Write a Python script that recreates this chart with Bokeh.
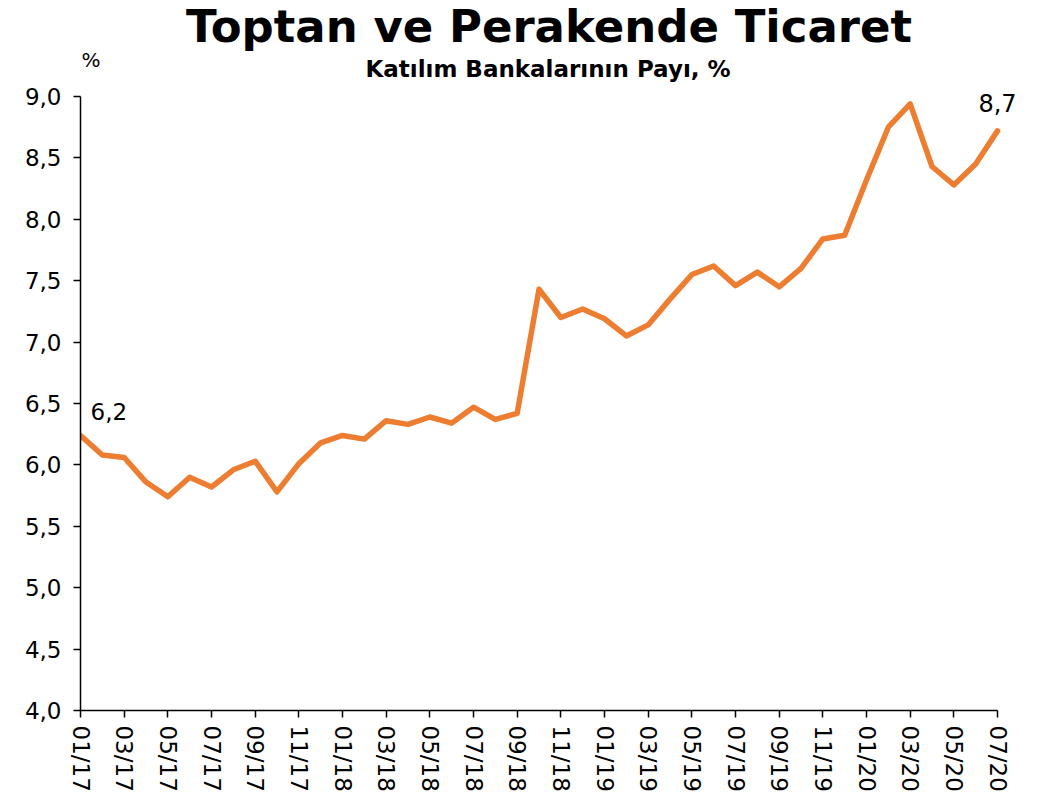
from bokeh.plotting import figure
from bokeh.models import Range1d, FixedTicker, CustomJSTickFormatter, Label, ColumnDataSource
from bokeh.embed import file_html
from bokeh.resources import INLINE
from bokeh.core.properties import value

months = ["01/17", "02/17", "03/17", "04/17", "05/17", "06/17", "07/17", "08/17", "09/17", "10/17",
          "11/17", "12/17", "01/18", "02/18", "03/18", "04/18", "05/18", "06/18", "07/18", "08/18",
          "09/18", "10/18", "11/18", "12/18", "01/19", "02/19", "03/19", "04/19", "05/19", "06/19",
          "07/19", "08/19", "09/19", "10/19", "11/19", "12/19", "01/20", "02/20", "03/20", "04/20",
          "05/20", "06/20", "07/20"]

share = [6.24, 6.08, 6.06, 5.86, 5.74, 5.90, 5.82, 5.96, 6.03, 5.78,
         6.01, 6.18, 6.24, 6.21, 6.36, 6.33, 6.39, 6.34, 6.47, 6.37,
         6.42, 7.43, 7.20, 7.27, 7.19, 7.05, 7.14, 7.35, 7.55, 7.62,
         7.46, 7.57, 7.45, 7.60, 7.84, 7.87, 8.32, 8.75, 8.94, 8.43,
         8.28, 8.45, 8.72]

y_ticks = [4.0, 4.5, 5.0, 5.5, 6.0, 6.5, 7.0, 7.5, 8.0, 8.5, 9.0]

title_text = "Toptan ve Perakende Ticaret"
subtitle_text = "Katılım Bankalarının Payı, %"
unit_text = "%"

ORANGE = "#ED7D31"
FONT = "DejaVu Sans"

xs = list(range(len(months)))
n_last = len(months) - 1

# frame extends past the data area so the title and end labels are not clipped;
# axis bounds keep the axis lines on the data area only
X_END = n_last * (1032 - 80) / 917
Y_END = y_ticks[0] + (y_ticks[-1] - y_ticks[0]) * (710 - 4) / 614

p = figure(width=1040, height=794, output_backend="svg", toolbar_location=None,
           x_range=Range1d(0, X_END), y_range=Range1d(y_ticks[0], Y_END),
           min_border_left=80, min_border_right=8, min_border_top=4, min_border_bottom=84)
p.outline_line_color = None
p.grid.visible = False
p.background_fill_color = "white"
p.border_fill_color = "white"

src = ColumnDataSource(dict(x=xs, y=share))
p.line("x", "y", source=src, line_color=ORANGE, line_width=5.5, line_join="round", line_cap="round")

# data labels for first and last points
first = ColumnDataSource(dict(x=[xs[0]], y=[share[0]], t=[f"{share[0]:.1f}".replace(".", ",")]))
last = ColumnDataSource(dict(x=[xs[-1]], y=[share[-1]], t=[f"{share[-1]:.1f}".replace(".", ",")]))
p.text("x", "y", text="t", source=first, text_font=value(FONT), text_font_size="23px",
       text_color="black", text_align="left", text_baseline="alphabetic", x_offset=10, y_offset=-24)
p.text("x", "y", text="t", source=last, text_font=value(FONT), text_font_size="24px",
       text_color="black", text_align="center", text_baseline="alphabetic", x_offset=0, y_offset=-28)

# axes
tick_idx = [i for i in xs if i % 2 == 0]
p.xaxis.ticker = FixedTicker(ticks=tick_idx)
p.xaxis.formatter = CustomJSTickFormatter(args=dict(labels=months), code="return labels[Math.round(tick)];")
p.xaxis.major_label_orientation = "vertical"
p.xaxis.bounds = (0, n_last)
p.yaxis.ticker = FixedTicker(ticks=y_ticks)
p.yaxis.formatter = CustomJSTickFormatter(code="return tick.toFixed(1).replace('.', ',');")
p.yaxis.bounds = (y_ticks[0], y_ticks[-1])

for ax in (p.xaxis, p.yaxis):
    ax.axis_line_color = "black"
    ax.axis_line_width = 1.5
    ax.major_tick_line_color = "black"
    ax.major_tick_line_width = 1.5
    ax.major_tick_in = 0
    ax.major_tick_out = 7
    ax.minor_tick_line_color = None
    ax.major_label_text_font = FONT
    ax.major_label_text_font_size = "23px"
    ax.major_label_text_color = "black"
p.xaxis.major_label_standoff = 8
p.yaxis.major_label_standoff = 12

# titles
cx = n_last / 2
p.add_layout(Label(x=cx, y=9.57, text=title_text, text_font=FONT, text_font_size="45px",
                   text_font_style="bold", text_align="center", text_baseline="alphabetic",
                   x_offset=10, text_color="black"))
p.add_layout(Label(x=cx, y=9.228, text=subtitle_text, text_font=FONT, text_font_size="23px",
                   text_font_style="bold", text_align="center", text_baseline="alphabetic",
                   x_offset=9, text_color="black"))
p.add_layout(Label(x=0, y=9.30, text=unit_text, text_font=FONT, text_font_size="20px",
                   text_align="left", text_baseline="alphabetic", x_offset=1, text_color="black"))

open("out.html", "w").write(file_html(p, INLINE))
